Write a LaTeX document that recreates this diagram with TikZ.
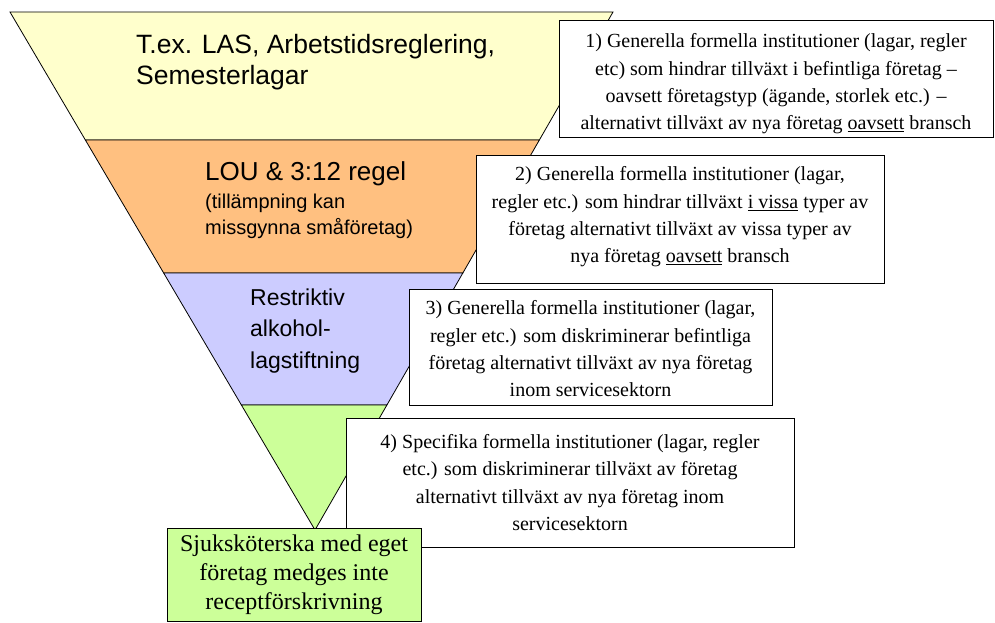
\documentclass[tikz,border=0pt]{standalone}
\usepackage{fontspec}
\setmainfont{Liberation Serif}
\newfontfamily\arialfam{Liberation Sans}
\usetikzlibrary{calc}

\definecolor{bandA}{HTML}{FFFFCC}
\definecolor{bandB}{HTML}{FFC080}
\definecolor{bandC}{HTML}{CCCCFF}
\definecolor{bandD}{HTML}{CCFF99}

\tikzset{
  band/.style={draw=black, line width=0.8, line join=miter},
  infoframe/.style={draw=black, fill=white, line width=1, inner sep=0},
  infotext/.style={inner sep=0, align=center, font=\fontsize{20}{27.3}\selectfont},
  leveltext/.style={anchor=base west, inner sep=0, align=left},
}

\begin{document}
\begin{tikzpicture}[x=1pt,y=-1pt]
\useasboundingbox (0,0) rectangle (995,623);

% funnel outline points
\coordinate (tl) at (10,12);
\coordinate (tr) at (613,12);
\coordinate (apex) at (315,530);
\coordinate (l1) at ($(tl)!0.2471!(apex)$);
\coordinate (r1) at ($(tr)!0.2471!(apex)$);
\coordinate (l2) at ($(tl)!0.5039!(apex)$);
\coordinate (r2) at ($(tr)!0.5039!(apex)$);
\coordinate (l3) at ($(tl)!0.7587!(apex)$);
\coordinate (r3) at ($(tr)!0.7587!(apex)$);

% funnel bands
\filldraw[band, fill=bandA] (tl) -- (tr) -- (r1) -- (l1) -- cycle;
\filldraw[band, fill=bandB] (l1) -- (r1) -- (r2) -- (l2) -- cycle;
\filldraw[band, fill=bandC] (l2) -- (r2) -- (r3) -- (l3) -- cycle;
\filldraw[band, fill=bandD] (l3) -- (r3) -- (apex) -- cycle;

% band labels (anchored at the baseline of their last line)
\node[leveltext, font=\arialfam\fontsize{26.5}{32}\selectfont] (lvlA) at (136,85)
  {T.ex. LAS, Arbetstidsreglering,\\Semesterlagar};
\node[leveltext, font=\arialfam\fontsize{26}{30}\selectfont] (lvlB) at (205,180)
  {LOU \& 3:12 regel};
\node[leveltext, font=\arialfam\fontsize{20}{26}\selectfont] (lvlBnote) at (205,234)
  {(tillämpning kan\\missgynna småföretag)};
\node[leveltext, font=\arialfam\fontsize{23}{31.5}\selectfont] (lvlC) at (250,368)
  {Restriktiv\\alkohol-\\lagstiftning};

% explanation boxes
\node[infoframe, minimum width=434, minimum height=116] (boxA) at (776,79) {};
\node[infotext] (boxAtext) at ($(boxA.center)+(0,5)$)
  {1) Generella formella institutioner (lagar, regler\\
   etc) som hindrar tillväxt i befintliga företag –\\
   oavsett företagstyp (ägande, storlek etc.) –\\
   alternativt tillväxt av nya företag \underline{oavsett} bransch};

\node[infoframe, minimum width=408, minimum height=128] (boxB) at (680,219) {};
\node[infotext] (boxBtext) at ($(boxB.center)+(0,-2)$)
  {2) Generella formella institutioner (lagar,\\
   regler etc.) som hindrar tillväxt \underline{i vissa} typer av\\
   företag alternativt tillväxt av vissa typer av\\
   nya företag \underline{oavsett} bransch};

\node[infoframe, minimum width=363, minimum height=116] (boxC) at (590.5,347) {};
\node[infotext] (boxCtext) at ($(boxC.center)+(0,2)$)
  {3) Generella formella institutioner (lagar,\\
   regler etc.) som diskriminerar befintliga\\
   företag alternativt tillväxt av nya företag\\
   inom servicesektorn};

\node[infoframe, minimum width=448, minimum height=129] (boxD) at (570,482.5) {};
\node[infotext] (boxDtext) at (boxD.center)
  {4) Specifika formella institutioner (lagar, regler\\
   etc.) som diskriminerar tillväxt av företag\\
   alternativt tillväxt av nya företag inom\\
   servicesektorn};

% example at the tip of the funnel
\node[infoframe, fill=bandD, minimum width=254, minimum height=93] (tip) at (294,574.5) {};
\node[infotext, font=\fontsize{24}{29}\selectfont] (tiptext) at (tip.center)
  {Sjuksköterska med eget\\företag medges inte\\receptförskrivning};
\end{tikzpicture}
\end{document}
